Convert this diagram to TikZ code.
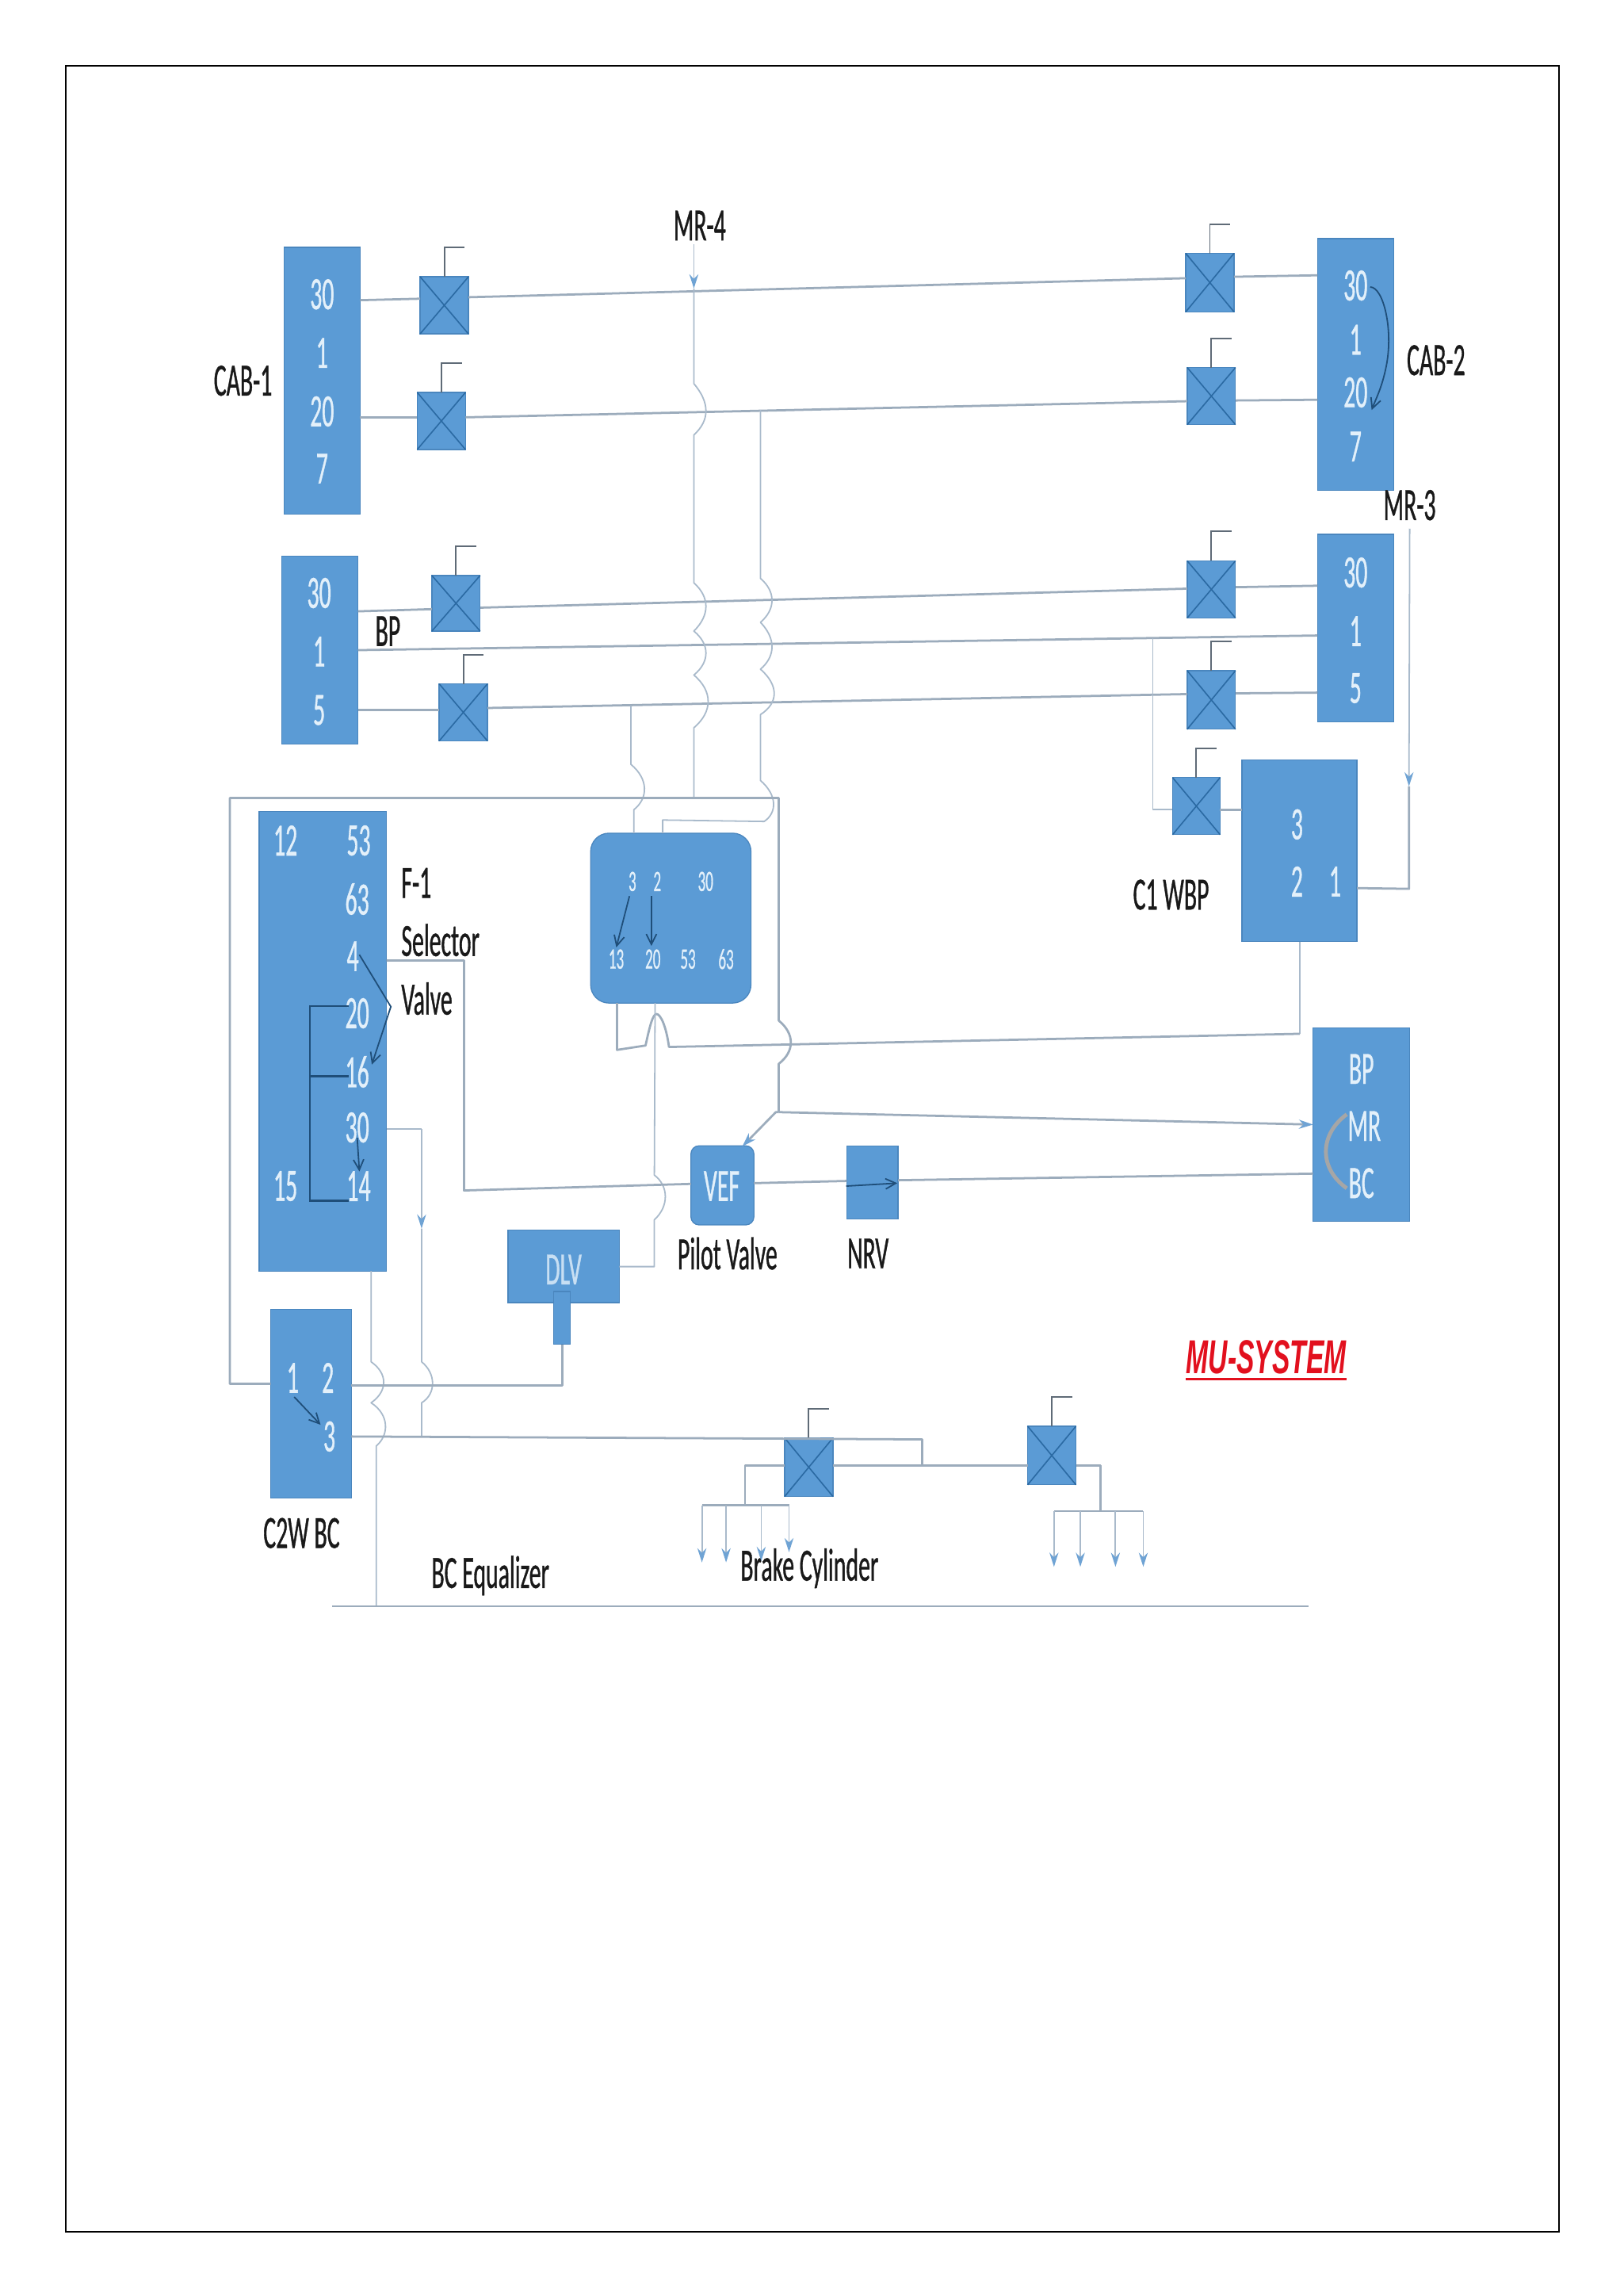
\documentclass[tikz,border=0pt]{standalone}
\usepackage{fontspec}
\usetikzlibrary{arrows.meta,calc}
\setmainfont{Carlito}[FakeStretch=0.51,FakeBold=0.6]
\newfontfamily\mufont{Liberation Sans}[FakeStretch=0.56]
\definecolor{boxblue}{HTML}{5B9BD5}
\definecolor{boxedge}{HTML}{4A86BE}
\definecolor{pipecol}{HTML}{9CACBC}
\definecolor{thinpipecol}{HTML}{A9BACB}
\definecolor{xcol}{HTML}{2B6AA3}
\definecolor{darkarrow}{HTML}{1F4E79}
\definecolor{pintext}{HTML}{E3F0FA}
\definecolor{tipblue}{HTML}{6FA3D4}
\definecolor{flagcol}{HTML}{5F6B77}
\definecolor{mured}{HTML}{E2101E}
\tikzset{
  blockbox/.style={draw=boxedge,fill=boxblue,line width=0.8pt,inner sep=0pt,outer sep=0pt,rectangle},
  roundbox/.style={blockbox,rounded corners=5mm},
  softbox/.style={blockbox,rounded corners=2.2mm},
  pin/.style={text=pintext,font=\fontsize{36}{36}\selectfont,inner sep=0pt},
  smallpin/.style={text=pintext,font=\fontsize{23}{23}\selectfont,inner sep=0pt},
  lbl/.style={text=black!90,font=\fontsize{36}{36}\selectfont,inner sep=0pt},
  pipe/.style={draw=pipecol,line width=1.7pt,line join=round},
  thinpipe/.style={draw=thinpipecol,line width=1.1pt,line join=round},
  tipped/.style={-{Stealth[length=11pt,width=7pt,color=tipblue]}},
  darrow/.style={draw=darkarrow,line width=1.1pt,-{Straight Barb[length=8pt,width=8pt]}},
  dline/.style={draw=darkarrow,line width=1.4pt},
  xline/.style={draw=xcol,line width=1.0pt},
  flagline/.style={draw=flagcol,line width=1.2pt},
}
\newcommand{\bx}[6][blockbox]{\node[#1,minimum width={(#5-#3)*0.4mm},minimum height={(#6-#4)*0.4mm}] (#2) at ({(#3+#5)/2},{(#4+#6)/2}) {};}
\newcommand{\valve}[6]{\bx{#1}{#2}{#3}{#4}{#5}
  \draw[xline] (#1.north west) -- (#1.south east) (#1.north east) -- (#1.south west);
  \draw[flagline] (#1.north) -- ++(0,-#6) -- ++(14,0);}
\begin{document}
\begin{tikzpicture}[x=0.4mm,y=-0.4mm]
\useasboundingbox (0,0) rectangle (1109,1568);
\fill[white] (0,0) rectangle (1109,1568);
\node[draw=black,line width=1.5pt,minimum width=408mm,minimum height=591.6mm,inner sep=0pt] (page) at (555,784.5) {};

% blocks
\bx{cabA}{194}{169}{246}{351}
\bx{cabB}{192.5}{380}{244.5}{508}
\bx{cabC}{900}{163}{952}{335}
\bx{cabD}{900}{365}{952}{493}
\bx{cwbp}{848.5}{519}{927}{643}
\bx{fone}{177}{554}{264}{868}
\bx[roundbox]{mid}{403.5}{569}{513}{685}
\bx{bpbox}{897}{702}{963}{834}
\bx[softbox]{vef}{472}{782.5}{515}{836.5}
\bx{nrv}{578.5}{782.5}{613.5}{832.5}
\bx{dlv}{347}{840}{423}{889.5}
\bx{stem}{378}{882}{389.5}{918}
\bx{ctwo}{185}{894}{240}{1023}

% valves
\valve{va}{287}{189}{320}{228}{20}
\valve{vb}{285}{268}{318}{307}{20}
\valve{vc}{295}{393}{328}{431}{20}
\valve{vd}{300}{467}{333}{506}{20}
\valve{ve}{810}{173}{843}{213}{20}
\valve{vf}{811}{251}{844}{290}{20}
\valve{vg}{811}{383}{844}{422}{20}
\valve{vh}{811}{458}{844}{498}{20}
\valve{vi}{801}{531}{833.5}{570}{20}
\valve{vj}{536}{982}{569}{1022}{20}
\valve{vk}{702}{974}{735}{1014}{20}

% pins
\node[pin] (pa1) at (220,201) {30};
\node[pin] (pa2) at (220,241) {1};
\node[pin] (pa3) at (220,281) {20};
\node[pin] (pa4) at (220,320) {7};
\node[pin] (pb1) at (218,405) {30};
\node[pin] (pb2) at (218,445) {1};
\node[pin] (pb3) at (218,485) {5};
\node[pin] (pc1) at (926,195) {30};
\node[pin] (pc2) at (926,232) {1};
\node[pin] (pc3) at (926,268) {20};
\node[pin] (pc4) at (926,305) {7};
\node[pin] (pd1) at (926,391) {30};
\node[pin] (pd2) at (926,431) {1};
\node[pin] (pd3) at (926,470) {5};
\node[pin] (pe1) at (886,563) {3};
\node[pin] (pe2) at (886,602) {2};
\node[pin] (pe3) at (912,602) {1};
\node[pin] (pf1) at (195,574) {12};
\node[pin] (pf2) at (245,574) {53};
\node[pin] (pf3) at (244,614) {63};
\node[pin] (pf4) at (241,653) {4};
\node[pin] (pf5) at (244,692) {20};
\node[pin] (pf6) at (244,732) {16};
\node[pin] (pf7) at (244,770) {30};
\node[pin] (pf8) at (195,810) {15};
\node[pin] (pf9) at (245,810) {14};
\node[smallpin] (pm1) at (432,602) {3};
\node[smallpin] (pm2) at (449,602) {2};
\node[smallpin] (pm3) at (482,602) {30};
\node[smallpin] (pm4) at (421,655) {13};
\node[smallpin] (pm5) at (446,655) {20};
\node[smallpin] (pm6) at (470,655) {53};
\node[smallpin] (pm7) at (496,655) {63};
\node[pin] (pbp) at (930,730) {BP};
\node[pin] (pmr) at (932,769) {MR};
\node[pin] (pbc) at (930,808) {BC};
\node[pin] (pvef) at (493,810) {VEF};
\node[pin,text=pintext!80!boxblue] (pdlv) at (385,867) {DLV};
\node[pin] (pt1) at (200,941) {1};
\node[pin] (pt2) at (224,941) {2};
\node[pin] (pt3) at (225,981) {3};

% labels
\node[lbl] (lcaba) at (166,260) {CAB-1};
\node[lbl] (lcabb) at (981,246) {CAB-2};
\node[lbl] (lmrf) at (478,154) {MR-4};
\node[lbl] (lmrt) at (963,345) {MR-3};
\node[lbl] (lbp) at (265,431) {BP};
\node[lbl,anchor=west] (lfa) at (274,603) {F-1};
\node[lbl,anchor=west] (lfb) at (274,642) {Selector};
\node[lbl,anchor=west] (lfc) at (274,682) {Valve};
\node[lbl] (lcw) at (800,611) {C1 WBP};
\node[lbl] (lpv) at (497,856) {Pilot Valve};
\node[lbl] (lnrv) at (593,856) {NRV};
\node[lbl] (lc2w) at (206,1047) {C2W BC};
\node[lbl] (lbce) at (335,1076) {BC Equalizer};
\node[lbl] (lbc) at (553,1071) {Brake Cylinder};
\node[inner sep=0pt,text=mured,font=\mufont\fontsize{37}{37}\selectfont\bfseries\itshape] (lmu) at (865,927) {MU-SYSTEM};
\draw[mured,line width=1.8pt] ($(lmu.south west)+(0,3)$) -- ($(lmu.south east)+(0,3)$);

% named pipe ends
\coordinate (a1) at (246,205); \coordinate (a2) at (287,204); \coordinate (a3) at (320,203);
\coordinate (a4) at (810,190); \coordinate (a5) at (843,189); \coordinate (a6) at (900,188);
\coordinate (b1) at (246,285); \coordinate (b2) at (285,285); \coordinate (b3) at (318,285);
\coordinate (b4) at (811,274); \coordinate (b5) at (844,273.5); \coordinate (b6) at (900,273);
\coordinate (c1) at (244.5,417.5); \coordinate (c2) at (295,416); \coordinate (c3) at (328,415);
\coordinate (c4) at (811,402); \coordinate (c5) at (844,401); \coordinate (c6) at (900,400);
\coordinate (d1) at (244.5,444); \coordinate (d2) at (900,434);
\coordinate (e1) at (244.5,485); \coordinate (e2) at (300,485); \coordinate (e3) at (333,483.5);
\coordinate (e4) at (811,474); \coordinate (e5) at (844,473.5); \coordinate (e6) at (900,473);

\draw[pipe] (a1) -- (a2); \draw[pipe] (a3) -- (a4); \draw[pipe] (a5) -- (a6);
\draw[pipe] (b1) -- (b2); \draw[pipe] (b3) -- (b4); \draw[pipe] (b5) -- (b6);
\draw[pipe] (c1) -- (c2); \draw[pipe] (c3) -- (c4); \draw[pipe] (c5) -- (c6);
\draw[pipe] (d1) -- (d2);
\draw[pipe] (e1) -- (e2); \draw[pipe] (e3) -- (e4); \draw[pipe] (e5) -- (e6);

% MR-4 feed
\coordinate (m0) at (474,167); \coordinate (m1) at (474,197); \coordinate (m2) at (474,545);
\draw[thinpipe,tipped] (m0) -- (m1);
\draw[thinpipe] (m1) -- (474,262) .. controls (485,275) and (485,287) .. (474,297)
  -- (474,398) .. controls (485,408) and (485,420) .. (474,431)
  .. controls (485,440) and (485,452) .. (474,461)
  .. controls (487,472) and (487,486) .. (474,497) -- (m2);

% second riser
\coordinate (n0) at (519.5,280);
\draw[thinpipe] (n0) -- (519.5,395) .. controls (530,404) and (530,416) .. (519.5,425)
  .. controls (530,436) and (530,448) .. (519.5,457)
  .. controls (532,468) and (532,480) .. (519.5,488) -- (519.5,533)
  .. controls (531,543) and (531,555) .. (522,561) -- (452.7,560) -- (452.7,569);

% third riser
\coordinate (o0) at (431,482); \coordinate (o1) at (433,569);
\draw[thinpipe] (o0) -- (431,522) .. controls (443,532) and (443,545) .. (433,553) -- (o1);

% header
\coordinate (h0) at (184.9,945); \coordinate (h1) at (532,759.5);
\draw[pipe] (h0) -- (157,945) -- (157,545) -- (532,545) -- (532,697)
  .. controls (543,706) and (543,718) .. (532,726.5) -- (h1);
\coordinate (vt) at (507,783); \coordinate (bpt) at (897,768);
\draw[pipe,tipped] (h1) -- (530,759.5) -- (vt);
\draw[pipe,tipped] (h1) -- (bpt);

% C1 WBP
\coordinate (w1) at (787.5,436); \coordinate (w2) at (801,553); \coordinate (w3) at (833.5,553); \coordinate (w4) at (848.5,553);
\draw[thinpipe] (w1) -- (787.5,553) -- (w2);
\draw[pipe] (w3) -- (w4);
\coordinate (r0) at (963,361); \coordinate (r1) at (962.5,537); \coordinate (r2) at (927,606.5);
\draw[thinpipe,tipped] (r0) -- (r1);
\draw[pipe] (r1) -- (962.5,607) -- (r2);

% C1 WBP to block, with hump
\coordinate (s0) at (888,643); \coordinate (s1) at (421.5,685);
\draw[thinpipe] (s0) -- (888,706);
\draw[pipe] (888,706) -- (457,715) .. controls (455,700) and (451,692.5) .. (448.5,692.5)
  .. controls (446,692.5) and (444,700) .. (441,714) -- (421.5,717) -- (s1);

% block to DLV
\coordinate (q0) at (447.5,685); \coordinate (q1) at (423,865);
\draw[thinpipe] (q0) -- (447,802.5) .. controls (457,810) and (457,824) .. (447,833) -- (447,865) -- (q1);

% F-1 to VEF to NRV to BC
\coordinate (f0) at (264,656); \coordinate (f1) at (472,808.5);
\draw[pipe] (f0) -- (317,656) -- (317,813) -- (f1);
\coordinate (v1) at (515,808); \coordinate (v2) at (578.5,806.5);
\coordinate (v3) at (613.5,806); \coordinate (v4) at (897,801.5);
\draw[pipe] (v1) -- (v2); \draw[pipe] (v3) -- (v4);
\coordinate (na) at (578,810); \coordinate (nb) at (613,808);
\draw[darrow] (na) -- (nb);

% F-1 30 down
\coordinate (g0) at (264,771); \coordinate (g1) at (288,839); \coordinate (g2) at (288,981);
\draw[thinpipe] (g0) -- (288,771);
\draw[thinpipe,tipped] (288,771) -- (g1);
\draw[thinpipe] (g1) -- (288,930) .. controls (298,938) and (298,952) .. (288,958) -- (g2);

% F-1 bottom to equalizer
\coordinate (k0) at (253.5,868); \coordinate (k1) at (257,1097);
\draw[thinpipe] (k0) -- (253.5,930) .. controls (265,938) and (265,950) .. (253.5,958)
  .. controls (266,966) and (266,980) .. (257,987.5) -- (k1);

% DLV stem to C2W
\coordinate (u0) at (384,918); \coordinate (u1) at (240,946);
\draw[pipe] (u0) -- (384,946) -- (u1);

% C2W 3 to valves
\coordinate (y0) at (240,981); \coordinate (y1) at (630,983); \coordinate (y2) at (630,1001);
\draw[pipe] (y0) -- (536,982.5) -- (y1) -- (y2);
\coordinate (z0) at (569,1001); \coordinate (z1) at (702,1001); \coordinate (z2) at (735,1001); \coordinate (z3) at (536,1001);
\draw[pipe] (z0) -- (z1);
\draw[pipe] (z2) -- (751.6,1001) -- (751.6,1032);
\draw[pipe] (z3) -- (509,1001) -- (509,1028);
\coordinate (eqa) at (227,1097); \coordinate (eqb) at (894,1097);
\draw[pipe] (eqa) -- (eqb);

% brake cylinder branches
\draw[pipe] (479.5,1028) -- (539,1028);
\draw[pipe] (720,1032) -- (781,1032);
\foreach \px/\py/\ps in {479.5/1028/1067, 496/1028/1067, 520/1028/1066, 539/1028/1060, 720/1032/1070, 738/1032/1070, 762/1032/1070, 781/1032/1070}{
  \draw[thinpipe,tipped] (\px,\py) -- (\px,\ps);
}

% internal dark arrows
\coordinate (ar1) at (430,612); \coordinate (ar2) at (421,647);
\coordinate (ar3) at (445,612); \coordinate (ar4) at (445,646);
\draw[darrow] (ar1) -- (ar2); \draw[darrow] (ar3) -- (ar4);
\coordinate (br1) at (936,196); \coordinate (br2) at (937,280);
\draw[darrow] (br1) .. controls (945,196) and (952,225) .. (947,250) .. controls (944,265) and (940,272) .. (br2);
\coordinate (fr1) at (245.5,652); \coordinate (fr2) at (254,727);
\draw[darrow] (fr1) -- (267,687.5) -- (fr2);
\coordinate (fr3) at (244,777); \coordinate (fr4) at (245.5,800);
\draw[darrow] (fr3) -- (fr4);
\coordinate (cr1) at (201,954); \coordinate (cr2) at (219,973);
\draw[darrow] (cr1) -- (cr2);
\draw[dline] (238,687) -- (211.6,687) -- (211.6,820) -- (238,820);
\draw[dline] (211.6,735) -- (238,735);

% grey arc in BP box
\coordinate (gr1) at (920,761); \coordinate (gr2) at (920,811.5);
\draw[draw=gray!70,line width=3pt] (gr1) .. controls (901,775) and (901,798) .. (gr2);
\end{tikzpicture}
\end{document}
